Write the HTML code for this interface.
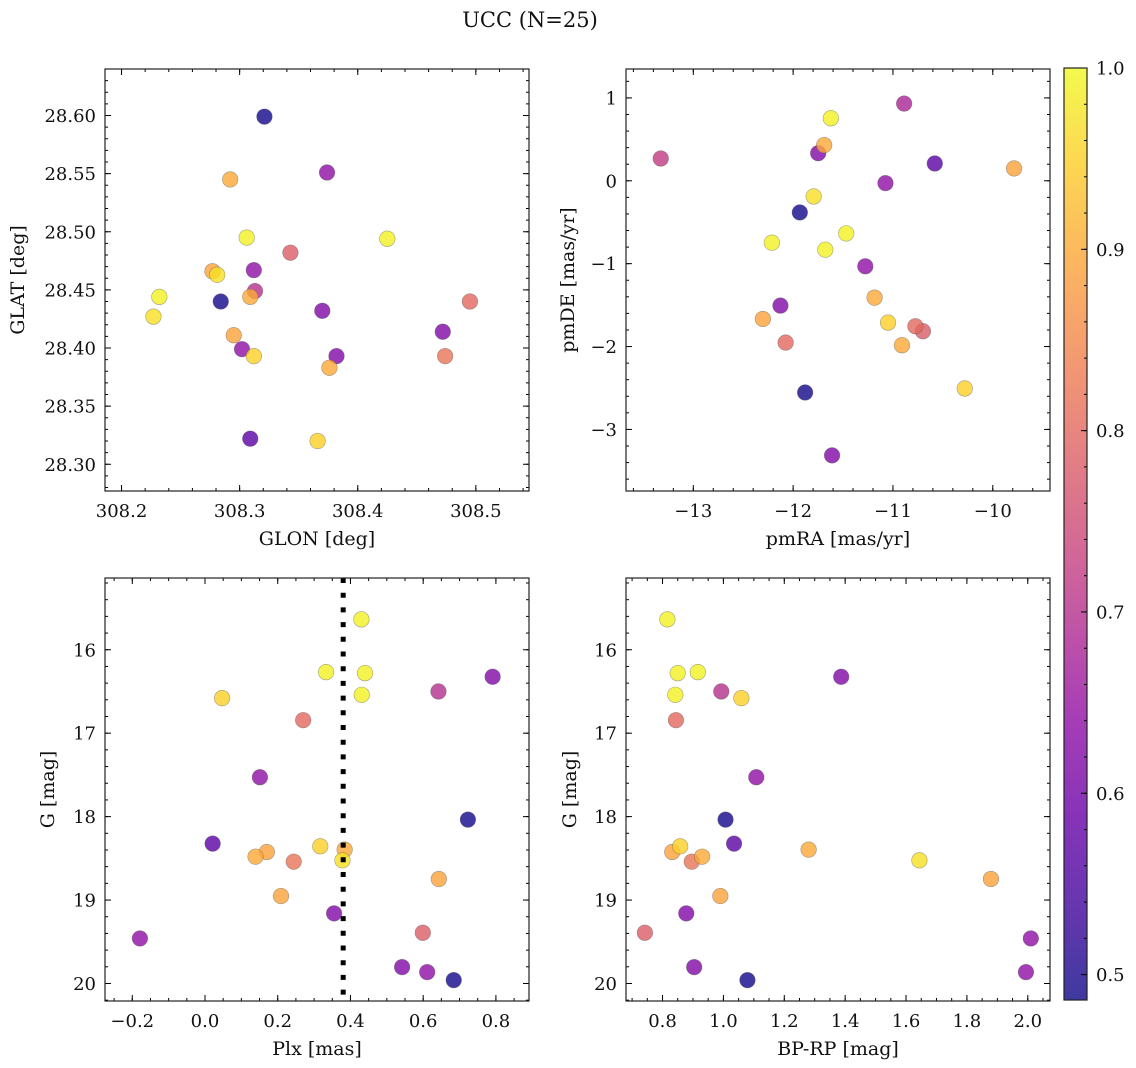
<!DOCTYPE html>
<html><head><meta charset="utf-8"><style>
html,body{margin:0;padding:0;background:#fff;}
svg{display:block;font-family:"DejaVu Serif","Liberation Serif",serif;}
</style></head><body>
<svg id="fig" width="1136" height="1068" viewBox="0 0 1136 1068">
<text x="530" y="27" font-size="21" text-anchor="middle" fill="#111">UCC (N=25)</text>
</svg>
<script>
// Panel 1: GLON / GLAT
const glon = [308.321,308.374,308.292,308.306,308.425,308.343,308.277,308.281,308.312,308.232,308.284,308.313,308.309,308.495,308.227,308.370,308.472,308.295,308.302,308.312,308.382,308.474,308.376,308.309,308.366];
const glat = [28.599,28.551,28.545,28.495,28.494,28.482,28.466,28.463,28.467,28.444,28.440,28.449,28.444,28.440,28.427,28.432,28.414,28.411,28.399,28.393,28.393,28.393,28.383,28.322,28.320];
const probSky = [0.49,0.64,0.90,0.99,0.99,0.78,0.89,0.97,0.64,0.99,0.49,0.70,0.90,0.80,0.97,0.62,0.62,0.89,0.64,0.95,0.62,0.82,0.90,0.57,0.95];
// Panel 2: pmRA / pmDE
const pmra = [-13.326,-10.888,-11.622,-11.689,-11.749,-10.581,-9.787,-11.075,-11.933,-11.794,-12.213,-11.468,-11.678,-11.277,-11.184,-12.127,-12.303,-11.049,-12.075,-10.775,-10.700,-10.910,-10.281,-11.880,-11.610];
const pmde = [0.269,0.932,0.755,0.430,0.333,0.209,0.149,-0.028,-0.382,-0.189,-0.747,-0.635,-0.831,-1.032,-1.410,-1.506,-1.667,-1.711,-1.952,-1.755,-1.815,-1.984,-2.506,-2.554,-3.313];
const probPm = [0.72,0.68,0.99,0.90,0.62,0.57,0.89,0.64,0.49,0.97,0.99,0.99,0.99,0.64,0.90,0.62,0.89,0.95,0.80,0.80,0.78,0.90,0.95,0.49,0.62];
// Panels 3 & 4: photometry per star
const plx = [0.430,0.333,0.440,0.047,0.431,0.791,0.642,0.270,0.151,0.723,0.021,0.317,0.384,0.170,0.139,0.244,0.378,0.643,0.209,0.355,-0.179,0.599,0.542,0.611,0.684];
const gmag = [15.636,16.268,16.280,16.580,16.540,16.324,16.500,16.844,17.528,18.036,18.324,18.356,18.396,18.424,18.480,18.540,18.524,18.748,18.952,19.160,19.460,19.392,19.804,19.864,19.960];
const bprp = [0.816,0.916,0.850,1.059,0.842,1.387,0.993,0.844,1.108,1.007,1.035,0.858,1.280,0.832,0.930,0.896,1.644,1.879,0.990,0.878,2.010,0.742,0.904,1.994,1.079];
const probPhot = [0.99,0.99,0.99,0.95,0.99,0.62,0.70,0.80,0.64,0.49,0.57,0.95,0.90,0.89,0.90,0.82,0.97,0.89,0.89,0.62,0.64,0.78,0.62,0.64,0.49];
const plxMedian = [0.380];
const cbTicks = [0.5,0.6,0.7,0.8,0.9,1.0];
const vmin = 0.486, vmax = 1.0;

const NS="http://www.w3.org/2000/svg";
const svg=document.getElementById('fig');
function mk(tag,attrs,parent){const e=document.createElementNS(NS,tag);for(const k in attrs)e.setAttribute(k,attrs[k]);(parent||svg).appendChild(e);return e;}

const plasma=[[13,8,135],[65,4,157],[106,0,168],[143,13,164],[177,42,144],[204,71,120],[225,100,98],[242,132,75],[252,166,54],[252,206,37],[240,249,33]];
function cmap(p){let t=(p-vmin)/(vmax-vmin);t=Math.max(0,Math.min(1,t));const f=t*10,i=Math.min(9,Math.floor(f)),r=f-i;
 const a=plasma[i],b=plasma[i+1];const c=a.map((v,k)=>Math.round(v+(b[k]-v)*r));return 'rgb('+c.join(',')+')';}

function fmt(v,d){const s=Math.abs(v).toFixed(d);return (v<-1e-9?'\u2212':'')+s;}

const TFS=18, LFS=19;

function panel(o){
 const g=mk('g',{});
 
 
 const X=v=>o.x0+(v-o.xmin)/(o.xmax-o.xmin)*(o.x1-o.x0);
 const Y=v=>o.yinv? o.y0+(v-o.ymin)/(o.ymax-o.ymin)*(o.y1-o.y0) : o.y1-(v-o.ymin)/(o.ymax-o.ymin)*(o.y1-o.y0);
 const tg=mk('g',{stroke:'#000','stroke-width':1},g);
 function ticksX(step,len,labels,d){const s=Math.ceil(o.xmin/step-1e-6);for(let k=s;k*step<=o.xmax+1e-9;k++){const v=k*step,px=X(v);
   mk('line',{x1:px,x2:px,y1:o.y1,y2:o.y1-len},tg);mk('line',{x1:px,x2:px,y1:o.y0,y2:o.y0+len},tg);
   if(labels){const t=mk('text',{x:px,y:o.y1+26,'font-size':TFS,'text-anchor':'middle',fill:'#111',stroke:'none'},g);t.textContent=fmt(v,d);
     
     }}}
 function ticksY(step,len,labels,d){const lo=Math.min(o.ymin,o.ymax),hi=Math.max(o.ymin,o.ymax);const s=Math.ceil(lo/step-1e-6);for(let k=s;k*step<=hi+1e-9;k++){const v=k*step,py=Y(v);
   mk('line',{x1:o.x0,x2:o.x0+len,y1:py,y2:py},tg);mk('line',{x1:o.x1,x2:o.x1-len,y1:py,y2:py},tg);
   if(labels){const t=mk('text',{x:o.x0-9,y:py+6.5,'font-size':TFS,'text-anchor':'end',fill:'#111',stroke:'none'},g);t.textContent=fmt(v,d);
     
     }}}
 ticksX(o.xminor,3,false);ticksX(o.xmajor,6,true,o.xd);
 ticksY(o.yminor,3,false);ticksY(o.ymajor,6,true,o.yd);
 const pg=mk('g',{},g);
 
 
 const idx=o.xs.map((_,i)=>i).sort((a,b)=>o.ps[a]-o.ps[b]);
 idx.forEach(i=>{const c=mk('circle',{cx:X(o.xs[i]),cy:Y(o.ys[i]),r:7.8,fill:cmap(o.ps[i]),'fill-opacity':0.8,stroke:'rgba(90,90,90,0.55)','stroke-width':0.6},pg);
   
   });
 if(o.vline){o.vline.forEach(v=>{const l=mk('line',{x1:X(v),x2:X(v),y1:o.y0,y2:o.y1,stroke:'#000','stroke-width':5,'stroke-dasharray':'5 9.7'},g);
   
   });}
 const fr=mk('rect',{x:o.x0,y:o.y0,width:o.x1-o.x0,height:o.y1-o.y0,fill:'none',stroke:'#222','stroke-width':1.2},g);
 
 
 const xl=mk('text',{x:(o.x0+o.x1)/2,y:o.y1+54,'font-size':LFS,'text-anchor':'middle',fill:'#111'},g);xl.textContent=o.xlabel;
 
 
 const cy=(o.y0+o.y1)/2;
 const yl=mk('text',{x:o.ylx,y:cy,'font-size':LFS,'text-anchor':'middle',fill:'#111',transform:'rotate(-90 '+o.ylx+' '+cy+')'},g);yl.textContent=o.ylabel;
 
 
}

panel({name:'sky-panel',x0:105,x1:529,y0:69,y1:491,xmin:308.186,xmax:308.545,ymin:28.277,ymax:28.640,xmajor:0.1,xminor:0.02,ymajor:0.05,yminor:0.01,xd:1,yd:2,
 xs:glon,ys:glat,ps:probSky,xlabel:'GLON [deg]',ylabel:'GLAT [deg]',ylx:24});
panel({name:'proper-motion-panel',x0:626,x1:1050,y0:69,y1:491,xmin:-13.674,xmax:-9.427,ymin:-3.743,ymax:1.349,xmajor:1,xminor:0.2,ymajor:1,yminor:0.2,xd:0,yd:0,
 xs:pmra,ys:pmde,ps:probPm,xlabel:'pmRA [mas/yr]',ylabel:'pmDE [mas/yr]',ylx:574});
panel({name:'plx-g-panel',x0:105,x1:529,y0:578,y1:1001,xmin:-0.275,xmax:0.891,ymin:15.14,ymax:20.21,yinv:true,xmajor:0.2,xminor:0.05,ymajor:1,yminor:0.2,xd:1,yd:0,
 xs:plx,ys:gmag,ps:probPhot,xlabel:'Plx [mas]',ylabel:'G [mag]',ylx:54,vline:plxMedian});
panel({name:'cmd-panel',x0:626,x1:1050,y0:578,y1:1001,xmin:0.680,xmax:2.073,ymin:15.14,ymax:20.21,yinv:true,xmajor:0.2,xminor:0.05,ymajor:1,yminor:0.2,xd:1,yd:0,
 xs:bprp,ys:gmag,ps:probPhot,xlabel:'BP-RP [mag]',ylabel:'G [mag]',ylx:576});

// colorbar
(function(){
 const cx0=1064,cx1=1087,cy0=68,cy1=1000;
 const g=mk('g',{});
 
 
 const defs=mk('defs',{},g);
 const lg=mk('linearGradient',{id:'cbg',x1:0,y1:1,x2:0,y2:0},defs);
 for(let i=0;i<=20;i++){mk('stop',{offset:(i/20),'stop-color':cmap(vmin+(vmax-vmin)*i/20)},lg);}
 mk('rect',{x:cx0,y:cy0,width:cx1-cx0,height:cy1-cy0,fill:'url(#cbg)','fill-opacity':0.8},g);
 const Yc=v=>cy1-(v-vmin)/(vmax-vmin)*(cy1-cy0);
 for(let v=0.5;v<=1.0001;v+=0.02){mk('line',{x1:cx1,x2:cx1-3,y1:Yc(v),y2:Yc(v),stroke:'#000','stroke-width':1},g);}
 cbTicks.forEach(v=>{const py=Yc(v);mk('line',{x1:cx1,x2:cx1-6,y1:py,y2:py,stroke:'#000','stroke-width':1},g);
  const t=mk('text',{x:cx1+9,y:py+6.5,'font-size':TFS,fill:'#111'},g);t.textContent=v.toFixed(1);
  
  });
 mk('rect',{x:cx0,y:cy0,width:cx1-cx0,height:cy1-cy0,fill:'none',stroke:'#222','stroke-width':1.2},g);
})();
</script>
</body></html>
